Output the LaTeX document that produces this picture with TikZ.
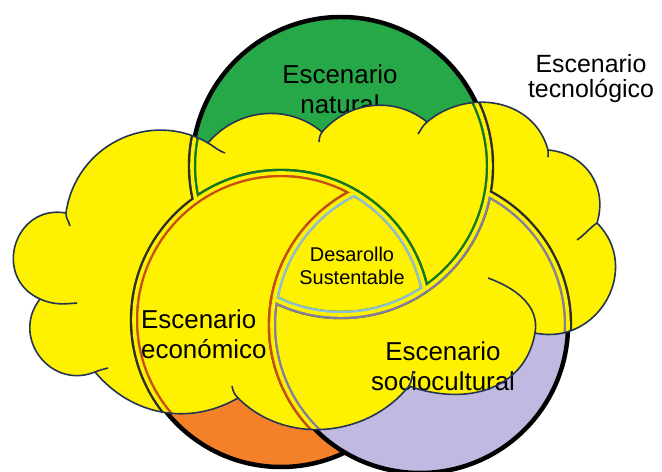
\documentclass[tikz,border=0pt]{standalone}
\usepackage{fontspec}
\setmainfont{Liberation Sans}
\usepackage{tikz}

\definecolor{natgreen}{RGB}{38,168,72}
\definecolor{ecoorange}{RGB}{245,128,42}
\definecolor{soclav}{RGB}{192,186,226}
\definecolor{cloudyellow}{RGB}{255,242,0}
\definecolor{cloudline}{RGB}{36,52,84}
\definecolor{natline}{RGB}{16,120,36}
\definecolor{ecoline}{RGB}{200,78,22}
\definecolor{socline}{RGB}{130,126,160}
\definecolor{coreline}{RGB}{140,192,210}
\definecolor{darkline}{RGB}{45,45,45}

\newcommand{\pathG}{(341,306) circle (149)}
\newcommand{\pathO}{(281,152) circle (147)}
\newcommand{\pathL}{(420,147) circle (148)}
\newcommand{\pathBig}{(-20,-20) rectangle (682,492)}
\newcommand{\pathCloud}{(66,259) to[out=82,in=150,looseness=1.1] (208,329)
  to[out=50,in=140] (322,340)
  to[out=49,in=141] (427,350)
  to[out=40,in=105,looseness=1.1] (548,322)
  to[out=-5,in=73,looseness=1.1] (597,249)
  to[out=-45,in=-12,looseness=1.3] (535,139)
  to[out=-100,in=-20,looseness=1.1] (409,86)
  to[out=231,in=-45] (238,74)
  to[out=210,in=-50] (95,100)
  to[out=202,in=-128,looseness=1.35] (40,173)
  to[out=156,in=170,looseness=1.5] (66,259) -- cycle}

\newcommand{\edgeG}{%
  \begin{scope}
    \clip \pathG;
    \draw[edgeside, natline] \pathG;
    \clip \pathO; \clip \pathL;
    \draw[edgeside, coreline] \pathG;
  \end{scope}
  \begin{scope}[even odd rule]
    \clip \pathBig \pathG;
    \draw[edgeside, darkline] \pathG;
    \clip \pathL;
    \draw[edgeside, socline] \pathG;
  \end{scope}}
\newcommand{\edgeO}{%
  \begin{scope}
    \clip \pathO;
    \draw[edgeside, ecoline] \pathO;
    \clip \pathL; \clip \pathG;
    \draw[edgeside, coreline] \pathO;
  \end{scope}
  \begin{scope}[even odd rule]
    \clip \pathBig \pathO;
    \draw[edgeside, darkline] \pathO;
    \clip \pathG;
    \draw[edgeside, natline] \pathO;
  \end{scope}}
\newcommand{\edgeL}{%
  \begin{scope}
    \clip \pathL;
    \draw[edgeside, socline] \pathL;
    \clip \pathG;
    \draw[edgeside, coreline] \pathL;
  \end{scope}
  \begin{scope}[even odd rule]
    \clip \pathBig \pathL;
    \draw[edgeside, darkline] \pathL;
    \clip \pathO;
    \draw[edgeside, ecoline] \pathL;
  \end{scope}}

\begin{document}
\begin{tikzpicture}[x=1bp, y=1bp,
    scene/.style={draw=black, line width=4.5pt},
    edgeside/.style={line width=8.5pt},
    edgecore/.style={line width=3.6pt, draw=cloudyellow},
    cloudedge/.style={draw=cloudline, line width=1.6pt},
    scenelabel/.style={font=\fontsize{26}{30}\selectfont, align=center, inner sep=0pt},
    corelabel/.style={font=\fontsize{20}{23}\selectfont, align=center, inner sep=0pt}]
  \useasboundingbox (0,0) rectangle (662,472);
  \fill[white] (0,0) rectangle (662,472);

  \filldraw[scene, fill=ecoorange] \pathO;
  \filldraw[scene, fill=soclav] \pathL;
  \filldraw[scene, fill=natgreen] \pathG;
  \node[scenelabel] (natural) at (340,383) {Escenario\\natural};

  \fill[cloudyellow] \pathCloud;
  \begin{scope}
    \clip \pathCloud;
    \begin{scope}[even odd rule] \clip \pathBig \pathO; \edgeG \end{scope}
    \begin{scope} \clip \pathO; \clip \pathL; \edgeG \end{scope}
    \begin{scope}[even odd rule] \clip \pathBig \pathL; \edgeO \end{scope}
    \begin{scope} \clip \pathL; \clip \pathG; \edgeO \end{scope}
    \begin{scope}[even odd rule] \clip \pathBig \pathG; \edgeL \end{scope}
    \begin{scope} \clip \pathG; \clip \pathO; \edgeL \end{scope}
    \begin{scope}[even odd rule] \clip \pathBig \pathO; \draw[edgecore] \pathG; \end{scope}
    \begin{scope} \clip \pathO; \clip \pathL; \draw[edgecore] \pathG; \end{scope}
    \begin{scope}[even odd rule] \clip \pathBig \pathL; \draw[edgecore] \pathO; \end{scope}
    \begin{scope} \clip \pathL; \clip \pathG; \draw[edgecore] \pathO; \end{scope}
    \begin{scope}[even odd rule] \clip \pathBig \pathG; \draw[edgecore] \pathL; \end{scope}
    \begin{scope} \clip \pathG; \clip \pathO; \draw[edgecore] \pathL; \end{scope}
  \end{scope}

  \node[scenelabel, align=left, anchor=west] (economico) at (141,138) {Escenario\\económico};
  \node[scenelabel] (socio) at (443,106) {Escenario\\sociocultural};
  \node[corelabel] (desarrollo) at (352,206) {Desarollo\\Sustentable};

  \draw[cloudedge] \pathCloud;
  \draw[cloudedge] (66,259) to[out=-92,in=105] (70,246);
  \draw[cloudedge] (208,329) to[out=-30,in=160] (225,319);
  \draw[cloudedge] (322,340) to[out=235,in=85] (319,330);
  \draw[cloudedge] (427,350) to[out=220,in=55] (418,338);
  \draw[cloudedge] (548,322) to[out=-75,in=95] (548,315);
  \draw[cloudedge] (597,249) to[out=215,in=35] (577,232);
  \draw[cloudedge] (535,139) to[out=80,in=-20] (488,194);
  \draw[cloudedge] (409,86) to[out=60,in=-100] (413,101);
  \draw[cloudedge] (238,74) to[out=135,in=-80] (232,86);
  \draw[cloudedge] (95,100) to[out=22,in=195] (108,104);
  \draw[cloudedge] (40,173) to[out=-24,in=185] (77,169);

  \node[scenelabel, font=\fontsize{25}{25}\selectfont] (tecno) at (591,393) {Escenario\\tecnológico};
\end{tikzpicture}
\end{document}
